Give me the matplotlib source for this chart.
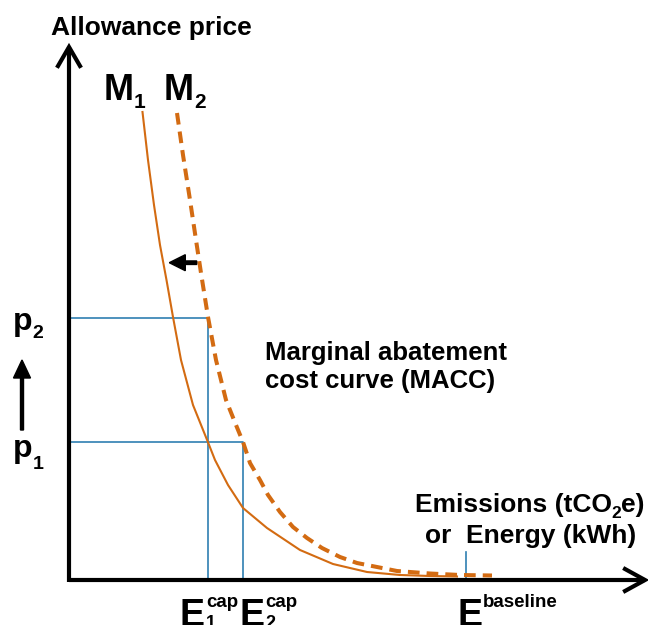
import matplotlib
matplotlib.use("Agg")
import matplotlib.pyplot as plt

# curve points: emissions (x) and allowance price (y),
# measured from the corner of the axes
m1_x = [73.5, 79, 85, 91, 97.5, 104, 112, 124, 138.5, 146, 159, 174, 198, 231, 264, 298, 331, 361, 388]
m1_y = [468, 420, 375, 335, 300, 263, 220, 175, 139, 120, 95, 72, 52, 30, 16, 8, 5, 4, 3.5]

m2_x = [108, 114, 121, 127, 132, 139, 147, 157, 167, 174, 181, 191, 199, 211, 224, 238, 253, 271,
        288, 308, 328, 361, 391, 423]
m2_y = [467, 425, 380, 340, 307, 263, 220, 180, 155, 138, 117, 100, 85, 68, 53, 42, 32, 23,
        17, 13, 9, 6.5, 5, 4.5]

p1, p2 = 138.5, 262.5
e1_cap, e2_cap, e_base = 138.7, 174.3, 397

orange = '#D36B12'
blue = '#2F7FB1'

plt.rcParams['font.family'] = ['Liberation Sans', 'DejaVu Sans']

fig = plt.figure(figsize=(6.48, 6.25), dpi=100)
ax = fig.add_axes([0, 0, 1, 1])
# one data unit = one pixel, origin at the corner of the axes
ax.set_xlim(-69, 579)
ax.set_ylim(-45, 580)
ax.axis('off')

renderer = fig.canvas.get_renderer()


def put(x, y, parts, align='left'):
    # parts: (text, size, dy), laid one after the other
    texts = []
    cx = x
    for s, size, dy in parts:
        t = ax.text(cx, y + dy, s, fontsize=size, fontweight='bold',
                    ha='left', va='baseline', color='k')
        cx += t.get_window_extent(renderer).width
        texts.append(t)
    if align == 'right':
        shift = cx - x
        for t in texts:
            t.set_x(t.get_position()[0] - shift)
    return cx


# blue guide lines
ax.plot([0, e1_cap, e1_cap], [p2, p2, 0], color=blue, lw=1.2, zorder=2)
ax.plot([0, e2_cap, e2_cap], [p1, p1, 0], color=blue, lw=1.2, zorder=2)
ax.plot([e_base, e_base], [0, 28], color=blue, lw=1.2, zorder=2)

# abatement cost curves
ax.plot(m1_x, m1_y, color=orange, lw=1.5, zorder=3)
ax.plot(m2_x, m2_y, color=orange, lw=2.9, linestyle=(0, (2.9, 1.75)),
        dash_capstyle='butt', zorder=3)

# axes with open arrow heads
ax.plot([0, 576], [0, 0], color='k', lw=3, solid_capstyle='butt', zorder=4)
ax.plot([556, 576, 556], [11, 0, -11], color='k', lw=3, solid_joinstyle='miter', zorder=4)
ax.plot([0, 0], [-2, 533], color='k', lw=3, solid_capstyle='butt', zorder=4)
ax.plot([-11, 0, 11], [514, 533, 514], color='k', lw=3, solid_joinstyle='miter', zorder=4)

# small arrows
ax.arrow(-47, 150, 0, 70, width=3, head_width=17, head_length=18,
         length_includes_head=True, color='k', zorder=5)
ax.arrow(127.7, 317.3, -27.4, 0, width=3.5, head_width=16, head_length=16,
         length_includes_head=True, color='k', zorder=5)

# labels
put(-18, 545, [('Allowance price', 19, 0)])
put(35, 480, [('M', 26, 0), ('1', 15, -8)])
put(95, 480, [('M', 26, 0), ('2', 15, -8)])
put(-56, 250, [('p', 23, 0), ('2', 14, -8)])
put(-56, 123, [('p', 23, 0), ('1', 14, -12)])

ax.text(196, 220, 'Marginal abatement', fontsize=18.5, fontweight='bold', ha='left', va='baseline')
ax.text(196, 192, 'cost curve (MACC)', fontsize=18.5, fontweight='bold', ha='left', va='baseline')

put(576, 68, [('Emissions (tCO', 19, 0), ('2', 12.5, -6), ('e)', 19, 0)], align='right')
ax.text(397, 37, 'Energy (kWh)', fontsize=19, fontweight='bold', ha='left', va='baseline')
ax.text(356, 37, 'or', fontsize=19, fontweight='bold', ha='left', va='baseline')


def e_label(x, sup, sub):
    t = ax.text(x, -46, 'E', fontsize=27, fontweight='bold', ha='left', va='baseline')
    sx = x + t.get_window_extent(renderer).width + 1
    ax.text(sx, -27, sup, fontsize=13.5, fontweight='bold', ha='left', va='baseline')
    if sub:
        ax.text(sx, -48, sub, fontsize=13, fontweight='bold', ha='left', va='baseline')


e_label(111, 'cap', '1')
e_label(170, 'cap', '2')
e_label(388, 'baseline', None)

fig.savefig('out.png', dpi=100)
